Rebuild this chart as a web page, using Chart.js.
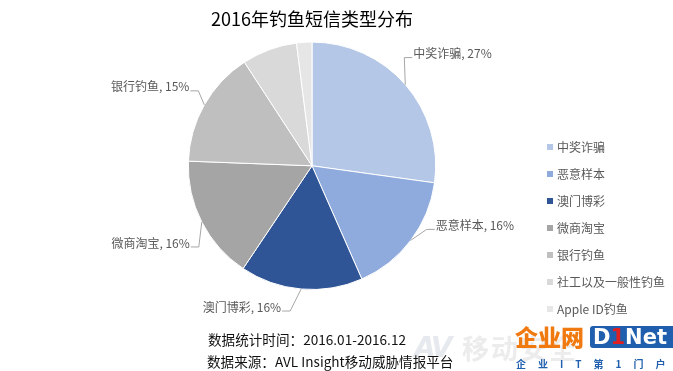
<!DOCTYPE html>
<html>
<head>
<meta charset="utf-8">
<script src="https://cdn.jsdelivr.net/npm/chart.js@4"></script>
<style>
  body { margin: 0; background: #fff; font-family: "Noto Sans CJK SC", sans-serif; }
  #wrap { position: relative; width: 673px; height: 371px; overflow: hidden; }
  #pie { position: absolute; left: 0; top: 0; }
  #legend { position: absolute; left: 547px; top: 0; }
  .item { position: absolute; left: 0; white-space: nowrap; font-size: 12px; color: #595959; line-height: 16px; }
  .item i { display: inline-block; width: 6px; height: 6px; margin-right: 4px; vertical-align: 2px; }
  .note { position: absolute; font-size: 13.6px; color: #111; white-space: nowrap; line-height: 16px; }
  .wm { position: absolute; white-space: nowrap; }
</style>
</head>
<body>
<div id="wrap">
  <canvas id="pie" width="673" height="371"></canvas>
  <div id="legend"></div>
  <div class="wm" style="left:414px;top:331px;font:italic bold 28px 'DejaVu Sans';color:#e6e9ed;letter-spacing:-3px">AV</div>
  <div class="wm" style="left:462px;top:328px;font:bold 27px 'Noto Sans CJK SC';color:#ececec;letter-spacing:2px">移动安全</div>
  <div class="wm" style="left:515px;top:322px;font:900 23px 'Noto Sans CJK SC';color:#f07a10;line-height:28px">企业网</div>
  <div class="wm" style="left:590px;top:326px;width:82px;height:22px;background:#1f5fae;border-radius:3px 0 0 3px;font:bold 21px 'DejaVu Sans';color:#fff;line-height:22px;padding-left:3px">D<span style="color:#e02020">1</span>Net</div>
  <div class="wm" style="left:516px;top:356px;font:bold 10px 'Noto Sans CJK SC';color:#1f5fae;letter-spacing:12px">企业IT第1门户</div>
  <div class="note" style="left:208px;top:331px">数据统计时间：2016.01-2016.12</div>
  <div class="note" style="left:207px;top:353px">数据来源：AVL Insight移动威胁情报平台</div>
</div>
<script>
// 2016年钓鱼短信类型分布
const categories = ["中奖诈骗", "恶意样本", "澳门博彩", "微商淘宝", "银行钓鱼", "社工以及一般性钓鱼", "Apple ID钓鱼"];
const shares = [27.2, 16.2, 16.0, 16.2, 15.2, 7.2, 2.0];
const shownPct = ["27%", "16%", "16%", "16%", "15%", null, null];
const colors = ["#b4c7e7", "#8faadc", "#2f5597", "#a5a5a5", "#bfbfbf", "#d9d9d9", "#e7e6e6"];

// label placement relative to the slice edge (dx, dy, side)
const labelPlace = [
  [8, -31, "left"],
  [25, -15, "left"],
  [-20, 18, "right"],
  [-12, 21, "right"],
  [-15, -18, "right"]
];

// legend
const legend = document.getElementById("legend");
categories.forEach(function(name, i) {
  const d = document.createElement("div");
  d.className = "item";
  d.style.top = (139 + i * 27) + "px";
  d.innerHTML = '<i style="background:' + colors[i] + '"></i>' + name;
  legend.appendChild(d);
});

const pieLabels = {
  id: "pieLabels",
  afterDatasetsDraw(chart) {
    const ctx = chart.ctx;
    const arcs = chart.getDatasetMeta(0).data;
    ctx.save();
    ctx.font = '12px "Noto Sans CJK SC"';
    ctx.fillStyle = "#595959";
    ctx.strokeStyle = "#a6a6a6";
    ctx.lineWidth = 1;
    ctx.textBaseline = "middle";
    arcs.forEach(function(arc, i) {
      if (!shownPct[i]) return;
      const p = arc.getProps(["x", "y", "startAngle", "endAngle", "outerRadius"], true);
      const mid = (p.startAngle + p.endAngle) / 2;
      const ex = p.x + Math.cos(mid) * p.outerRadius;
      const ey = p.y + Math.sin(mid) * p.outerRadius;
      const pl = labelPlace[i];
      const tx = ex + pl[0];
      const ty = ey + pl[1];
      const side = pl[2] === "left" ? -1 : 1;
      ctx.beginPath();
      ctx.moveTo(ex, ey);
      ctx.lineTo(tx + side * 9, ty + 4);
      ctx.lineTo(tx + side * 1, ty + 4);
      ctx.stroke();
      ctx.textAlign = pl[2];
      ctx.fillText(categories[i] + ", " + shownPct[i], tx, ty);
    });
    ctx.restore();
  }
};

new Chart(document.getElementById("pie"), {
  type: "pie",
  data: {
    labels: categories,
    datasets: [{
      data: shares,
      backgroundColor: colors,
      borderColor: "#ffffff",
      borderWidth: 1
    }]
  },
  options: {
    responsive: false,
    animation: false,
    devicePixelRatio: 1,
    layout: { padding: { left: 0, right: 49, top: 0, bottom: 81 } },
    plugins: {
      legend: { display: false },
      tooltip: { enabled: false },
      title: {
        display: true,
        text: "2016年钓鱼短信类型分布",
        color: "#000",
        font: { family: "Noto Sans CJK SC", size: 18, weight: "normal" },
        padding: { top: 8, bottom: 12 }
      }
    }
  },
  plugins: [pieLabels]
});
</script>
</body>
</html>
